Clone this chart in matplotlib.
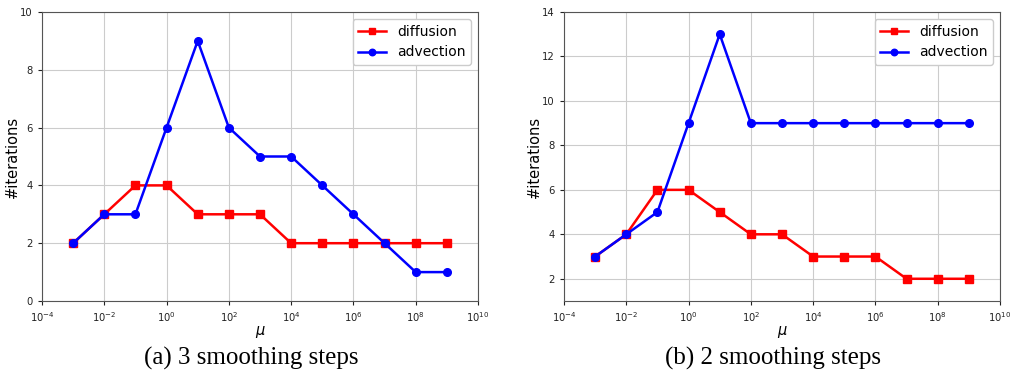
import matplotlib
matplotlib.use("Agg")
import matplotlib.pyplot as plt

mu = [1e-3, 1e-2, 1e-1, 1e0, 1e1, 1e2, 1e3, 1e4, 1e5, 1e6, 1e7, 1e8, 1e9]

diff_a = [2, 3, 4, 4, 3, 3, 3, 2, 2, 2, 2, 2, 2]
adv_a = [2, 3, 3, 6, 9, 6, 5, 5, 4, 3, 2, 1, 1]

diff_b = [3, 4, 6, 6, 5, 4, 4, 3, 3, 3, 2, 2, 2]
adv_b = [3, 4, 5, 9, 13, 9, 9, 9, 9, 9, 9, 9, 9]

captions = ["(a) 3 smoothing steps", "(b) 2 smoothing steps"]
ylims = [(0, 10), (1, 14)]
yticks = [[0, 2, 4, 6, 8, 10], [2, 4, 6, 8, 10, 12, 14]]

fig = plt.figure(figsize=(10.14, 3.83), dpi=100)
lefts = [42 / 1014, 564 / 1014]
w = 436 / 1014
bottom = 1 - 301 / 383
h = 289 / 383

for i, (d, a) in enumerate([(diff_a, adv_a), (diff_b, adv_b)]):
    ax = fig.add_axes([lefts[i], bottom, w, h])
    ax.plot(mu, d, 'r-s', lw=1.8, ms=5.5, label='diffusion')
    ax.plot(mu, a, 'b-o', lw=1.8, ms=5.5, label='advection')
    ax.set_xscale('log')
    ax.set_xlim(1e-4, 1e10)
    ax.set_xticks([1e-4, 1e-2, 1e0, 1e2, 1e4, 1e6, 1e8, 1e10])
    ax.minorticks_off()
    ax.set_ylim(*ylims[i])
    ax.set_yticks(yticks[i])
    ax.grid(True, color='#cccccc', lw=0.8)
    ax.tick_params(labelsize=7.2, colors='#222222', length=3)
    for s in ax.spines.values():
        s.set_color('#555555')
    ax.set_xlabel(r'$\mu$', fontsize=10.5, labelpad=0)
    ax.set_ylabel('#iterations', fontsize=10.5, labelpad=0)
    ax.legend(loc='upper right', fontsize=10, handlelength=2.0, markerscale=0.85, framealpha=1)
    fig.text(lefts[i] + w * 0.48, 1 - 358 / 383, captions[i], ha='center', va='center',
             fontsize=18, family='Liberation Serif')

fig.savefig('out.png', dpi=100)
